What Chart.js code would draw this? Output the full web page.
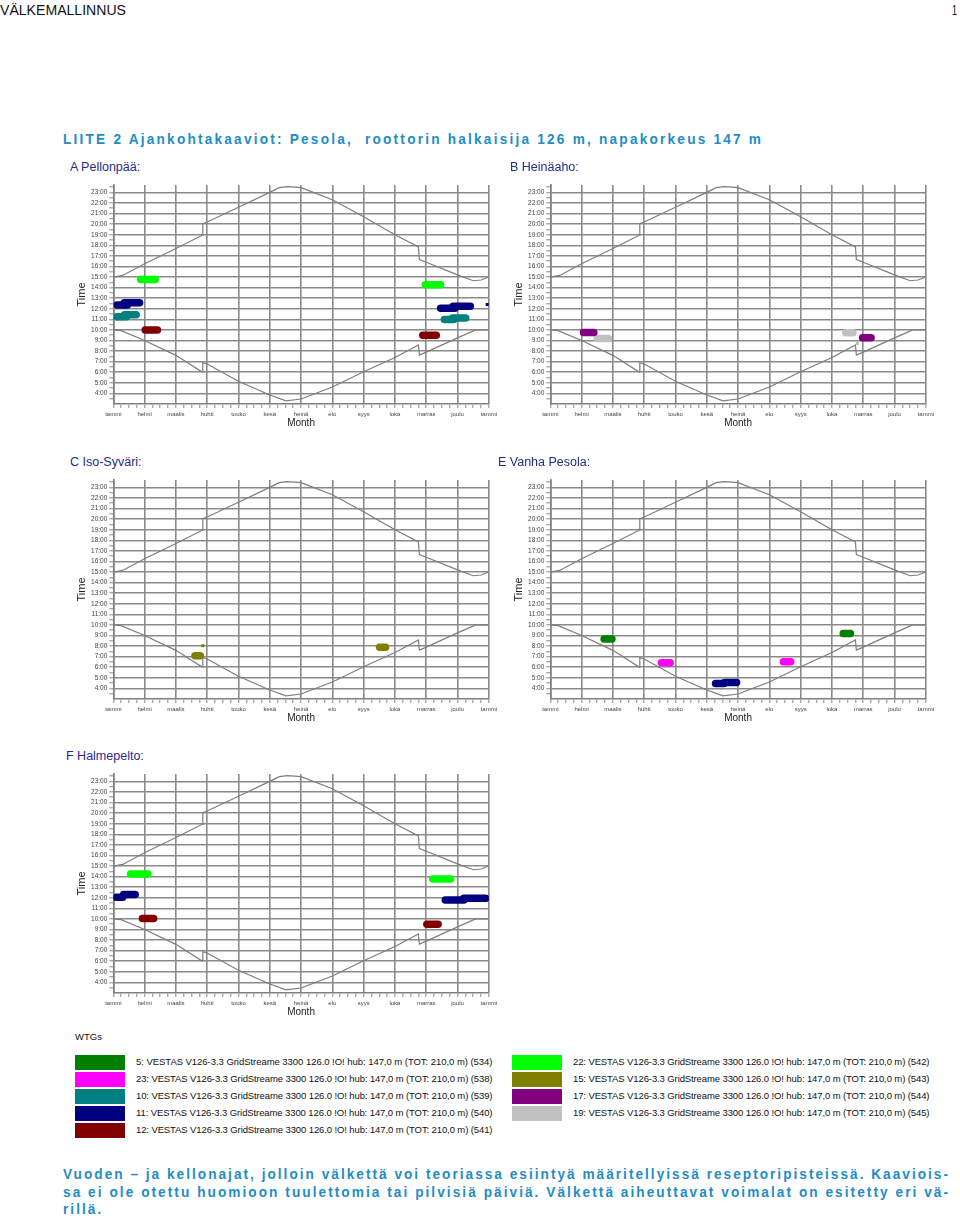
<!DOCTYPE html>
<html><head><meta charset="utf-8">
<script src="https://cdn.jsdelivr.net/npm/chart.js@4.4.0/dist/chart.umd.min.js"></script>
<style>
html,body{margin:0;padding:0}
body{width:960px;height:1220px;position:relative;background:#fff;overflow:hidden;font-family:"Liberation Sans",Arial,sans-serif}
.t{position:absolute;white-space:pre;transform:translateY(-50%);transform-origin:0 50%;line-height:1.15}
.blue{color:#1f8cc6;font-weight:bold;font-size:15.5px}
.ptitle{color:#1f2d8a;font-size:12.5px}
.leg{font-size:9.5px;color:#111}
.sw{position:absolute;width:50px;height:15px}
canvas{position:absolute}
</style></head><body>
<script>
// ---------- data ----------
const months = ['tammi','helmi','maalis','huhti','touko','kesä','heinä','elo','syys','loka','marras','joulu','tammi'];
const hourTicks = [4,5,6,7,8,9,10,11,12,13,14,15,16,17,18,19,20,21,22,23];

// sunset curve (upper): month position / hour
const sunsetX = [0, 0.3, 1, 2, 2.84, 2.86, 3, 4, 5, 5.3, 5.55, 5.8, 6, 7, 8, 9, 9.75, 9.78, 10, 11, 11.5, 11.75, 12];
const sunsetY = [15.0, 15.15, 16.25, 17.7, 18.95, 20.05, 20.2, 21.6, 23.0, 23.45, 23.55, 23.5, 23.45, 22.3, 20.7, 19.0, 17.85, 16.65, 16.4, 15.2, 14.65, 14.72, 15.0];
// sunrise curve (lower)
const sunriseX = [0, 0.25, 1, 2, 2.84, 2.86, 3, 4, 5, 5.52, 6, 7, 8, 9, 9.75, 9.78, 10, 11, 11.58, 12];
const sunriseY = [10.0, 9.93, 9.0, 7.6, 6.02, 6.9, 6.78, 5.15, 3.85, 3.3, 3.47, 4.6, 6.05, 7.4, 8.58, 7.62, 7.9, 9.25, 10.0, 10.0];

// WTG legend
const wtgNumbers = [5, 23, 10, 11, 12, 22, 15, 17, 19];
const wtgIds = [534, 538, 539, 540, 541, 542, 543, 544, 545];
const wtgModel = 'VESTAS V126-3.3 GridStreame 3300 126.0 !O! hub: 147,0 m (TOT: 210,0 m)';

// flicker periods: [wtg number, month start, month end, hour]
const flickerA = [[22,0.87,1.34,14.77],[11,0.12,0.45,12.36],[11,0.35,0.84,12.58],[10,0.12,0.42,11.25],[10,0.36,0.73,11.43],[12,1.02,1.41,9.99],
                  [22,9.97,10.46,14.28],[11,10.46,10.92,12.05],[11,10.86,11.41,12.24],[10,10.58,10.88,10.98],[10,10.84,11.26,11.12],[12,9.89,10.32,9.51]];
const spotsA = [[11,11.95,12.4]];
const flickerB = [[17,1.06,1.39,9.77],[19,1.5,1.86,9.2],[19,9.44,9.67,9.73],[17,9.98,10.25,9.26]];
const spotsB = [[19,9.81,8.73]];
const flickerC = [[15,2.61,2.78,7.08],[15,8.51,8.7,7.88]];
const spotsC = [[15,2.86,8.03]];
const flickerE = [[5,1.72,1.97,8.66],[23,3.55,3.83,6.42],[11,5.28,5.55,4.47],[11,5.57,5.95,4.57],[23,7.45,7.68,6.52],[5,9.36,9.59,9.2]];
const spotsE = [];
const flickerF = [[22,0.55,1.1,14.24],[11,0.1,0.3,12.05],[11,0.33,0.7,12.3],[12,0.93,1.29,10.05],
                  [22,10.21,10.78,13.77],[11,10.61,11.2,11.78],[11,11.2,11.9,11.95],[12,10.02,10.38,9.51]];
const spotsF = [];

// ---------- styles ----------
const wtgColors = {5:'#008000',23:'#ff00ff',10:'#008080',11:'#000080',12:'#800000',22:'#00ff00',15:'#808000',17:'#800080',19:'#c0c0c0'};

const panels = [
  {title:'A Pellonpää:', flicker:flickerA, spots:spotsA, plotLeft:113.3, plotTop:185, tx:70, ty:167},
  {title:'B Heinäaho:', flicker:flickerB, spots:spotsB, plotLeft:550, plotTop:185, tx:510, ty:167},
  {title:'C Iso-Syväri:', flicker:flickerC, spots:spotsC, plotLeft:113.3, plotTop:480, tx:70, ty:462},
  {title:'E Vanha Pesola:', flicker:flickerE, spots:spotsE, plotLeft:550, plotTop:480, tx:498, ty:462},
  {title:'F Halmepelto:', flicker:flickerF, spots:spotsF, plotLeft:113.3, plotTop:774, tx:66, ty:756}
];

function addText(txt, x, y, cls, style) {
  const d = document.createElement('div');
  d.className = 't ' + (cls || '');
  d.textContent = txt;
  d.style.left = x + 'px';
  d.style.top = y + 'px';
  if (style) Object.assign(d.style, style);
  document.body.appendChild(d);
  return d;
}
// fit text to a target width: horizontal squeeze k, then letter spacing for the rest
function fitText(el, target, k) {
  k = k || 1;
  el.style.letterSpacing = '0px';
  el.style.transform = 'translateY(-50%)';
  const w0 = el.getBoundingClientRect().width;
  const n = el.textContent.length;
  const ls = (target / k - w0) / (n - 1);
  el.style.letterSpacing = ls + 'px';
  el.style.transform = 'translateY(-50%) scaleX(' + k + ')';
  return ls;
}
function fitScale(el, target) {
  el.style.transform = 'translateY(-50%)';
  const w0 = el.getBoundingClientRect().width;
  el.style.transform = 'translateY(-50%) scaleX(' + (target / w0) + ')';
}

const GRID = '#8a8a8a';
function makePanel(p) {
  const YW = 53.3, W = 440, TOPPAD = 7, XH = 29, PH = 219, PW = 376;
  const H = TOPPAD + PH + XH;
  const cv = document.createElement('canvas');
  cv.width = W; cv.height = H;
  Object.assign(cv.style, {left:(p.plotLeft - YW)+'px', top:(p.plotTop - TOPPAD)+'px', width:W+'px', height:H+'px'});
  document.body.appendChild(cv);
  addText(p.title, p.tx, p.ty, 'ptitle');

  const datasets = [];
  datasets.push({data: sunsetX.map((x,i)=>({x, y:sunsetY[i]})), borderColor:'#7d7d7d', borderWidth:1.2, pointRadius:0, order:2});
  datasets.push({data: sunriseX.map((x,i)=>({x, y:sunriseY[i]})), borderColor:'#7d7d7d', borderWidth:1.2, pointRadius:0, order:2});
  p.flicker.forEach(([w,x0,x1,h]) => datasets.push({data:[{x:x0,y:h},{x:x1,y:h}], borderColor:wtgColors[w], borderWidth:7.5,
      borderCapStyle:'round', pointRadius:0, order:0}));
  p.spots.forEach(([w,x,h]) => datasets.push({data:[{x,y:h}], showLine:false, pointStyle:'rect', pointRadius:2.2,
      pointBackgroundColor:wtgColors[w], pointBorderColor:wtgColors[w], pointBorderWidth:0, order:0}));

  new Chart(cv, {
    type:'line',
    data:{datasets},
    options:{
      responsive:false, animation:false, events:[],
      layout:{padding:{left:0, right:W - YW - PW, top:TOPPAD, bottom:0}},
      plugins:{legend:{display:false}, tooltip:{enabled:false}},
      scales:{
        x:{type:'linear', min:0, max:12,
          afterBuildTicks: s => { s.ticks = []; for (let i = 0; i <= (months.length-1)*4; i++) s.ticks.push({value:i/4}); },
          ticks:{autoSkip:false, maxRotation:0, minRotation:0, padding:3, color:'#444', font:{size:6, family:'Liberation Sans'},
                 callback: v => Number.isInteger(v) ? months[v] : ''},
          grid:{color: c => (c.tick && Number.isInteger(c.tick.value)) ? GRID : 'rgba(0,0,0,0)', lineWidth:1.6,
                tickColor:'#888', tickWidth:1, tickLength:4},
          border:{color:'#808080', width:1.6},
          title:{display:true, text:'Month', color:'#222', font:{size:10, family:'Liberation Sans'}, padding:{top:0, bottom:4}},
          afterFit: s => { s.height = XH; }
        },
        y:{type:'linear', min:3, max:23.7,
          afterBuildTicks: s => { s.ticks = []; hourTicks.forEach(h => { s.ticks.push({value:h-0.5}); s.ticks.push({value:h}); });
                                   s.ticks.push({value:hourTicks[hourTicks.length-1]+0.5}); },
          ticks:{autoSkip:false, padding:2, color:'#444', font:{size:6.5, family:'Liberation Sans'},
                 callback: v => Number.isInteger(v) ? v + ':00' : ''},
          grid:{color: c => (c.tick && Number.isInteger(c.tick.value)) ? GRID : 'rgba(0,0,0,0)', lineWidth:1.6,
                tickColor:'#888', tickWidth:1, tickLength:4},
          border:{color:'#808080', width:1.6},
          title:{display:true, text:'Time', color:'#222', font:{size:11, family:'Liberation Sans'}, padding:{top:15, bottom:0}},
          afterFit: s => { s.width = YW; }
        }
      }
    }
  });
}
panels.forEach(makePanel);

// ---------- page texts ----------
const hdr = addText('VÄLKEMALLINNUS', 0, 10, '', {fontSize:'14px', color:'#111'});
fitScale(hdr, 126);
const pg = addText('1', 952, 10, '', {fontSize:'14px', color:'#111'});
fitScale(pg, 5);
const sub = addText('LIITE 2 Ajankohtakaaviot: Pesola,  roottorin halkaisija 126 m, napakorkeus 147 m', 63, 139, 'blue');
fitText(sub, 698, 0.88);

addText('WTGs', 75, 1037, 'leg');
wtgNumbers.forEach((n, i) => {
  const col = i < 5 ? 0 : 1, row = i < 5 ? i : i - 5;
  const sx = col ? 512 : 75, tx = col ? 573 : 136;
  const sw = document.createElement('div');
  sw.className = 'sw';
  Object.assign(sw.style, {left:sx+'px', top:(1054.5 + row*17)+'px', background:wtgColors[n]});
  document.body.appendChild(sw);
  const el = addText(n + ': ' + wtgModel + ' (' + wtgIds[i] + ')', tx, 1062 + row*17, 'leg');
  fitText(el, 356.5);
});

const foot = ['Vuoden – ja kellonajat, jolloin välkettä voi teoriassa esiintyä määritellyissä reseptoripisteissä. Kaaviois-',
              'sa ei ole otettu huomioon tuulettomia tai pilvisiä päiviä. Välkettä aiheuttavat voimalat on esitetty eri vä-',
              'rillä.'];
const f1 = addText(foot[0], 63, 1174, 'blue');
const ls1 = fitText(f1, 885, 0.88);
const f2 = addText(foot[1], 63, 1192, 'blue');
const ls2 = fitText(f2, 885, 0.88);
const f3 = addText(foot[2], 63, 1209, 'blue');
f3.style.letterSpacing = ((ls1 + ls2) / 2) + 'px';
f3.style.transform = 'translateY(-50%) scaleX(0.88)';
</script>
</body></html>
